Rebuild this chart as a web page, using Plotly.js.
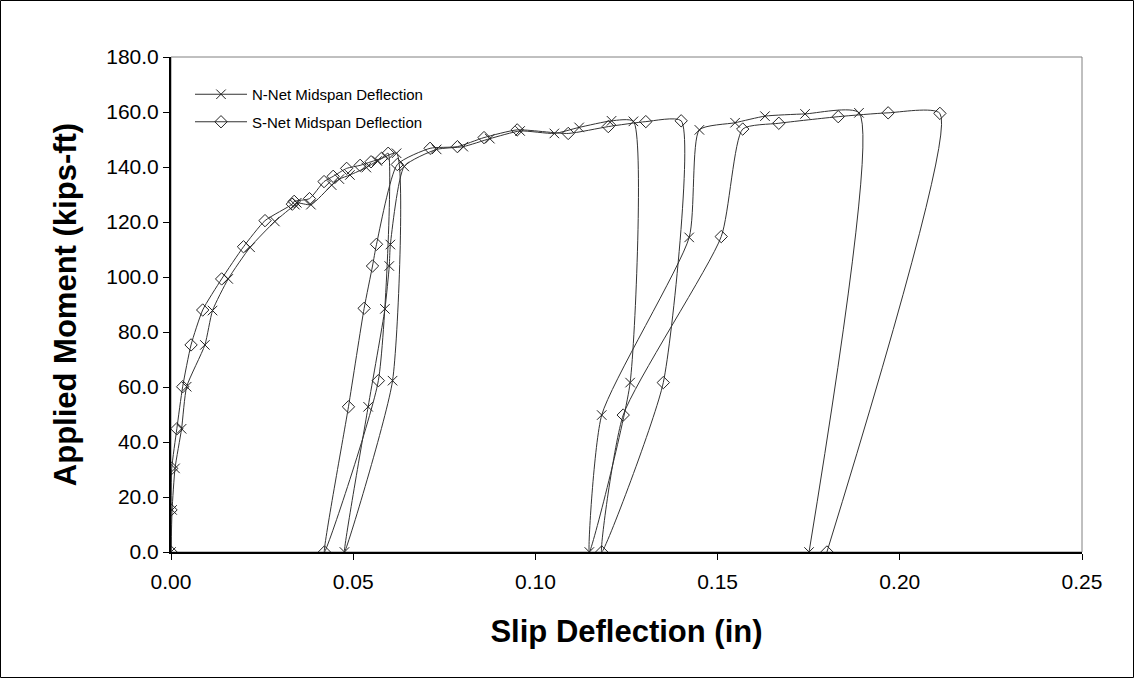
<!DOCTYPE html>
<html>
<head>
<meta charset="utf-8">
<script src="https://cdn.plot.ly/plotly-3.0.1.min.js"></script>
<style>
  html, body { margin: 0; padding: 0; background: #fff; }
  #chart { width: 1134px; height: 678px; }
</style>
</head>
<body>
<div id="chart"></div>
<script>
// N-Net Midspan Deflection: slip deflection (in) vs applied moment (kips-ft)
const nNetSlip = [
  0.0000, 0.0003, 0.0011, 0.0029, 0.0043, 0.0093, 0.0114, 0.0157, 0.0217, 0.0285,
  0.0340, 0.0345, 0.0384, 0.0441, 0.0462, 0.0491, 0.0536, 0.0566, 0.0619,
  0.0608, 0.0476,
  0.0541, 0.0587, 0.0599, 0.0602, 0.0640, 0.0729, 0.0802, 0.0875, 0.0958, 0.1052, 0.1120, 0.1209, 0.1269,
  0.1260, 0.1148,
  0.1182, 0.1422, 0.1450, 0.1548, 0.1630, 0.1740, 0.1888,
  0.1751
];
const nNetMoment = [
  0.0, 15.3, 30.4, 44.8, 60.1, 75.3, 87.8, 99.3, 110.8, 120.2,
  126.3, 127.0, 126.3, 133.4, 135.6, 137.1, 139.8, 142.2, 145.0,
  62.3, 0.0,
  52.8, 88.4, 104.0, 111.8, 140.2, 146.4, 147.4, 150.3, 153.1, 152.2, 154.4, 156.8, 156.6,
  61.6, 0.0,
  49.8, 114.4, 153.5, 156.1, 158.5, 159.3, 159.7,
  0.0
];

// S-Net Midspan Deflection
const sNetSlip = [
  0.0000, 0.0000, 0.0002, 0.0016, 0.0032, 0.0055, 0.0087, 0.0139, 0.0199, 0.0258,
  0.0333, 0.0338, 0.0380, 0.0420, 0.0445, 0.0482, 0.0519, 0.0549, 0.0578, 0.0596,
  0.0569, 0.0421,
  0.0487, 0.0530, 0.0553, 0.0564, 0.0621, 0.0711, 0.0786, 0.0859, 0.0950, 0.1090, 0.1200, 0.1303, 0.1400,
  0.1351, 0.1182,
  0.1241, 0.1510, 0.1569, 0.1668, 0.1831, 0.1968, 0.2110,
  0.1800
];
const sNetMoment = [
  0.0, 15.3, 30.4, 44.8, 60.1, 75.3, 88.0, 99.3, 111.0, 120.5,
  126.5, 127.5, 128.5, 134.7, 136.6, 139.5, 140.6, 141.9, 143.2, 145.0,
  62.3, 0.0,
  52.8, 88.6, 104.0, 111.9, 140.9, 146.8, 147.4, 150.7, 153.5, 152.2, 154.7, 156.5, 156.8,
  61.6, 0.0,
  49.8, 114.7, 153.8, 155.9, 158.3, 159.7, 159.5,
  0.0
];

const seriesNames = ['N-Net Midspan Deflection', 'S-Net Midspan Deflection'];
const xTitle = 'Slip Deflection (in)';
const yTitle = 'Applied Moment (kips-ft)';

const FONT = 'Liberation Sans, Arial, sans-serif';

const traces = [
  {
    x: nNetSlip, y: nNetMoment, name: seriesNames[0], legendgroup: 'n',
    type: 'scatter', mode: 'lines+markers',
    line: { color: '#333', width: 1, shape: 'spline', smoothing: 0.55 },
    marker: { symbol: 'x-thin-open', size: 9.5, color: '#222', line: { color: '#222', width: 1 } }
  },
  {
    x: sNetSlip, y: sNetMoment, name: seriesNames[1], legendgroup: 's',
    type: 'scatter', mode: 'lines+markers',
    line: { color: '#333', width: 1, shape: 'spline', smoothing: 0.55 },
    marker: { symbol: 'diamond-open', size: 9.5, color: '#222', line: { color: '#222', width: 1 } }
  }
];

const L = 171, R = 1082, T = 57, B = 552, W = 1134, H = 678;
const pw = R - L, ph = B - T;
const px = v => (v - L) / pw;
const py = v => (B - v) / ph;

const layout = {
  width: W, height: H,
  margin: { l: L, r: W - R, t: T, b: H - B, pad: 0 },
  paper_bgcolor: '#fff', plot_bgcolor: '#fff',
  font: { family: FONT, color: '#000' },
  showlegend: true,
  legend: {
    x: px(190), y: py(78), xanchor: 'left', yanchor: 'top',
    bgcolor: 'rgba(0,0,0,0)', borderwidth: 0,
    font: { family: FONT, size: 15, color: '#000' },
    traceorder: 'grouped', tracegroupgap: 5,
    itemwidth: 52
  },
  xaxis: {
    range: [0, 0.25], tick0: 0, dtick: 0.05, tickformat: '.2f',
    ticks: 'outside', ticklen: 6, tickwidth: 1, tickcolor: '#000',
    showline: true, linecolor: '#000', linewidth: 2,
    showgrid: false, zeroline: false,
    ticklabelstandoff: 4,
    tickfont: { family: FONT, size: 21, color: '#000' },
    title: { text: xTitle, font: { family: FONT, size: 31, color: '#000', weight: 'bold' }, standoff: 28 }
  },
  yaxis: {
    range: [0, 180], tick0: 0, dtick: 20, tickformat: '.1f',
    ticks: 'outside', ticklen: 6, tickwidth: 1, tickcolor: '#000',
    showline: true, linecolor: '#000', linewidth: 2,
    showgrid: false, zeroline: false,
    tickfont: { family: FONT, size: 21, color: '#000' },
    title: { text: yTitle, font: { family: FONT, size: 31, color: '#000', weight: 'bold' }, standoff: 20 }
  },
  shapes: [
    { type: 'rect', xref: 'paper', yref: 'paper', x0: 0, x1: 1, y0: 0, y1: 1,
      line: { color: '#808080', width: 1 }, layer: 'below' },
    { type: 'rect', xref: 'paper', yref: 'paper',
      x0: px(0.5), x1: px(W - 0.5), y0: py(H - 0.5), y1: py(0.5),
      line: { color: '#000', width: 1 }, layer: 'below' }
  ]
};

Plotly.newPlot('chart', traces, layout, { staticPlot: true, displayModeBar: false });
</script>
</body>
</html>
